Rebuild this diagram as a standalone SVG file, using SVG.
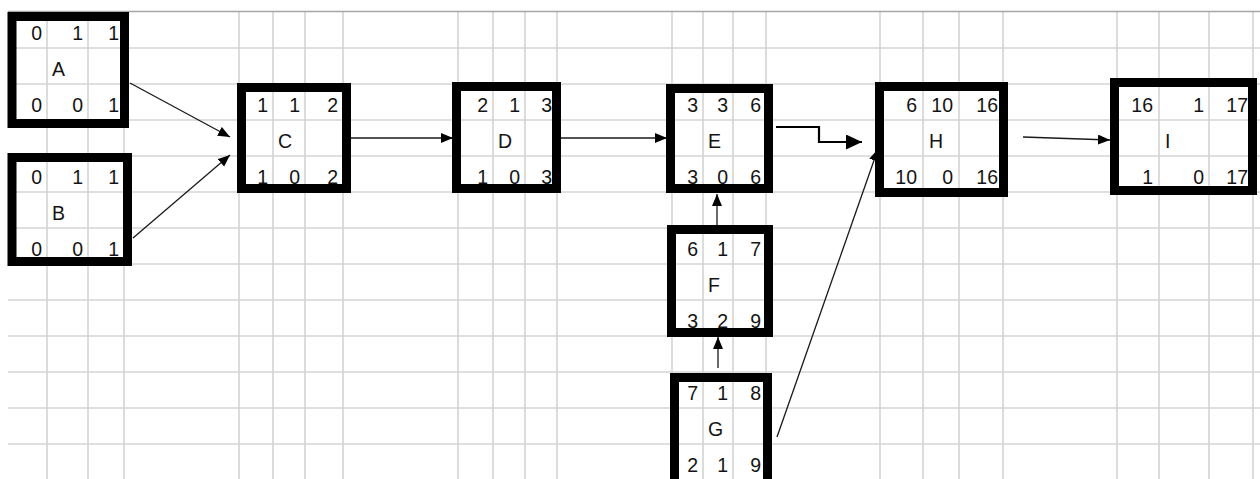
<svg xmlns="http://www.w3.org/2000/svg" width="1260" height="479" viewBox="0 0 1260 479">
<style>
.g line{stroke:#d4d4d4;stroke-width:1.6}
.box{fill:none;stroke:#000;stroke-width:9}
.t{font-family:"Liberation Sans",Arial,sans-serif;font-size:19.5px;fill:#141414}
.n{text-anchor:end}
.c{stroke:#1a1a1a;stroke-width:1.3;fill:none}
</style>
<defs>
<marker id="ah" markerUnits="userSpaceOnUse" markerWidth="13" markerHeight="11" refX="12" refY="5" orient="auto"><path d="M0,0 L12,5 L0,10 z" fill="#000"/></marker>
<marker id="ahb" markerUnits="userSpaceOnUse" markerWidth="17" markerHeight="16" refX="16" refY="7.5" orient="auto"><path d="M0,0 L16,7.5 L0,15 z" fill="#000"/></marker>
</defs>
<rect width="1260" height="479" fill="#fff"/>
<g class="g" id="grid">
<line x1="8" y1="48" x2="1260" y2="48"/><line x1="8" y1="84" x2="1260" y2="84"/><line x1="8" y1="120" x2="1260" y2="120"/><line x1="8" y1="156" x2="1260" y2="156"/><line x1="8" y1="192" x2="1260" y2="192"/><line x1="8" y1="228" x2="1260" y2="228"/><line x1="8" y1="264" x2="1260" y2="264"/><line x1="8" y1="300" x2="1260" y2="300"/><line x1="8" y1="336" x2="1260" y2="336"/><line x1="8" y1="372" x2="1260" y2="372"/><line x1="8" y1="408" x2="1260" y2="408"/><line x1="8" y1="444" x2="1260" y2="444"/>
<line x1="47" y1="12" x2="47" y2="479"/><line x1="88" y1="12" x2="88" y2="479"/><line x1="124" y1="12" x2="124" y2="479"/><line x1="239" y1="12" x2="239" y2="479"/><line x1="273" y1="12" x2="273" y2="479"/><line x1="305" y1="12" x2="305" y2="479"/><line x1="343" y1="12" x2="343" y2="479"/><line x1="458" y1="12" x2="458" y2="479"/><line x1="493" y1="12" x2="493" y2="479"/><line x1="525" y1="12" x2="525" y2="479"/><line x1="557" y1="12" x2="557" y2="479"/><line x1="672" y1="12" x2="672" y2="479"/><line x1="703" y1="12" x2="703" y2="479"/><line x1="733" y1="12" x2="733" y2="479"/><line x1="766" y1="12" x2="766" y2="479"/><line x1="880" y1="12" x2="880" y2="479"/><line x1="923" y1="12" x2="923" y2="479"/><line x1="959" y1="12" x2="959" y2="479"/><line x1="1003" y1="12" x2="1003" y2="479"/><line x1="1117" y1="12" x2="1117" y2="479"/><line x1="1159" y1="12" x2="1159" y2="479"/><line x1="1209" y1="12" x2="1209" y2="479"/><line x1="1253" y1="12" x2="1253" y2="479"/>
<line x1="8" y1="11.5" x2="1260" y2="11.5" style="stroke:#a6a6a6"/>
</g>
<g id="connectors">
<path class="c" d="M130,83 L230,137" marker-end="url(#ah)"/>
<path class="c" d="M133,238 L230,155" marker-end="url(#ah)"/>
<path class="c" d="M351,138 L453,138" marker-end="url(#ah)"/>
<path class="c" d="M561,138 L667,138" marker-end="url(#ah)"/>
<path class="c" d="M776,127 H819 V142 H862" style="stroke:#000;stroke-width:2.2" marker-end="url(#ahb)"/>
<path class="c" d="M717,225 L717,194" marker-end="url(#ah)"/>
<path class="c" d="M718,368 L718,337" marker-end="url(#ah)"/>
<path class="c" d="M777,437 L878,149" marker-end="url(#ah)"/>
<path class="c" d="M1023,137 L1110,140" marker-end="url(#ah)"/>
</g>
<g id="node-A">
<rect class="box" x="12" y="16.5" width="112.5" height="107"/>
<text class="t n" x="42" y="40">0</text><text class="t n" x="83" y="40">1</text><text class="t n" x="119" y="40">1</text>
<text class="t" x="52" y="76">A</text>
<text class="t n" x="42" y="112">0</text><text class="t n" x="83" y="112">0</text><text class="t n" x="119" y="112">1</text>
</g>
<g id="node-B">
<rect class="box" x="12" y="157.5" width="115.5" height="104"/>
<text class="t n" x="42" y="184">0</text><text class="t n" x="83" y="184">1</text><text class="t n" x="119" y="184">1</text>
<text class="t" x="52" y="220">B</text>
<text class="t n" x="42" y="256">0</text><text class="t n" x="83" y="256">0</text><text class="t n" x="119" y="256">1</text>
</g>
<g id="node-C">
<rect class="box" x="241.5" y="87.5" width="105" height="101"/>
<text class="t n" x="268" y="112">1</text><text class="t n" x="300" y="112">1</text><text class="t n" x="338" y="112">2</text>
<text class="t" x="278" y="148">C</text>
<text class="t n" x="268" y="184">1</text><text class="t n" x="300" y="184">0</text><text class="t n" x="338" y="184">2</text>
</g>
<g id="node-D">
<rect class="box" x="456.5" y="86.5" width="100" height="102"/>
<text class="t n" x="488" y="112">2</text><text class="t n" x="520" y="112">1</text><text class="t n" x="552" y="112">3</text>
<text class="t" x="498" y="148">D</text>
<text class="t n" x="488" y="184">1</text><text class="t n" x="520" y="184">0</text><text class="t n" x="552" y="184">3</text>
</g>
<g id="node-E">
<rect class="box" x="670.5" y="88.5" width="98" height="100"/>
<text class="t n" x="698" y="112">3</text><text class="t n" x="728" y="112">3</text><text class="t n" x="761" y="112">6</text>
<text class="t" x="708" y="148">E</text>
<text class="t n" x="698" y="184">3</text><text class="t n" x="728" y="184">0</text><text class="t n" x="761" y="184">6</text>
</g>
<g id="node-F">
<rect class="box" x="671.5" y="229.5" width="97" height="103"/>
<text class="t n" x="698" y="256">6</text><text class="t n" x="728" y="256">1</text><text class="t n" x="761" y="256">7</text>
<text class="t" x="708" y="292">F</text>
<text class="t n" x="698" y="328">3</text><text class="t n" x="728" y="328">2</text><text class="t n" x="761" y="328">9</text>
</g>
<g id="node-G">
<rect class="box" x="674.5" y="377.5" width="93" height="120"/>
<text class="t n" x="698" y="400">7</text><text class="t n" x="728" y="400">1</text><text class="t n" x="761" y="400">8</text>
<text class="t" x="708" y="436">G</text>
<text class="t n" x="698" y="472">2</text><text class="t n" x="728" y="472">1</text><text class="t n" x="761" y="472">9</text>
</g>
<g id="node-H">
<rect class="box" x="879.5" y="86.5" width="124" height="106"/>
<text class="t n" x="917" y="112">6</text><text class="t n" x="953" y="112">10</text><text class="t n" x="998" y="112">16</text>
<text class="t" x="929" y="148">H</text>
<text class="t n" x="917" y="184">10</text><text class="t n" x="953" y="184">0</text><text class="t n" x="998" y="184">16</text>
</g>
<g id="node-I">
<rect class="box" x="1114.5" y="82.5" width="138" height="108"/>
<text class="t n" x="1153" y="112">16</text><text class="t n" x="1204" y="112">1</text><text class="t n" x="1248" y="112">17</text>
<text class="t" x="1165" y="148">I</text>
<text class="t n" x="1153" y="184">1</text><text class="t n" x="1204" y="184">0</text><text class="t n" x="1248" y="184">17</text>
</g>
</svg>
